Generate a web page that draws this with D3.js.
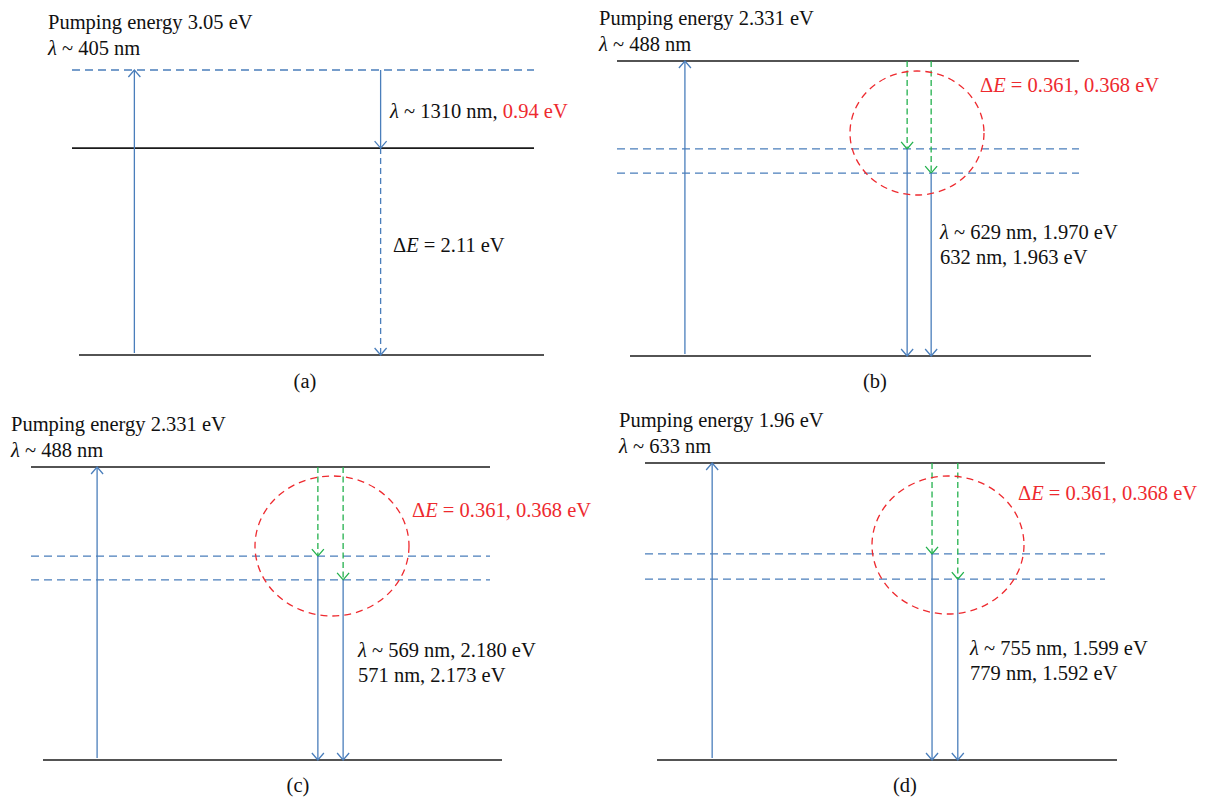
<!DOCTYPE html>
<html>
<head>
<meta charset="utf-8">
<script src="https://cdn.jsdelivr.net/npm/d3@7"></script>
<style>
  body { margin: 0; background: #fff; }
  text { font-family: "Liberation Serif", "DejaVu Serif", serif; font-size: 20.5px; fill: #111; }
</style>
</head>
<body>
<div id="chart"></div>
<script>
// DATA
var panelNames = ["(a)", "(b)", "(c)", "(d)"];
var pumpEnergy = ["3.05", "2.331", "2.331", "1.96"];
var pumpWavelength = ["405", "488", "488", "633"];

// schematic level heights: ground = 0, pumped level = 1
var levelHeights = [
  [0, 0.726, 1],
  [0, 0.620, 0.702, 1],
  [0, 0.615, 0.696, 1],
  [0, 0.609, 0.694, 1]
];
var levelDashed = [
  [false, false, true],
  [false, true, true, false],
  [false, true, true, false],
  [false, true, true, false]
];

// transitions: from level, to level, place along the level (0..1), kind
var transitions = [
  [ {from: 0, to: 1, at: 0.135, kind: "pump"},
    {from: 1, to: 0.726, at: 0.668, kind: "emit"},
    {from: 0.726, to: 0, at: 0.668, kind: "decay"} ],
  [ {from: 0, to: 1, at: 0.147, kind: "pump"},
    {from: 1, to: 0.702, at: 0.628, kind: "relax"},
    {from: 1, to: 0.620, at: 0.680, kind: "relax"},
    {from: 0.702, to: 0, at: 0.628, kind: "emit"},
    {from: 0.620, to: 0, at: 0.680, kind: "emit"} ],
  [ {from: 0, to: 1, at: 0.144, kind: "pump"},
    {from: 1, to: 0.696, at: 0.625, kind: "relax"},
    {from: 1, to: 0.615, at: 0.680, kind: "relax"},
    {from: 0.696, to: 0, at: 0.625, kind: "emit"},
    {from: 0.615, to: 0, at: 0.680, kind: "emit"} ],
  [ {from: 0, to: 1, at: 0.146, kind: "pump"},
    {from: 1, to: 0.694, at: 0.624, kind: "relax"},
    {from: 1, to: 0.609, at: 0.680, kind: "relax"},
    {from: 0.694, to: 0, at: 0.624, kind: "emit"},
    {from: 0.609, to: 0, at: 0.680, kind: "emit"} ]
];

var emitWavelength = [["1310"], ["629", "632"], ["569", "571"], ["755", "779"]];
var emitEnergy = [["0.94"], ["1.970", "1.963"], ["2.180", "2.173"], ["1.599", "1.592"]];
var deltaE = ["2.11", "0.361, 0.368", "0.361, 0.368", "0.361, 0.368"];

// LAYOUT (where each panel sits on the page)
var layout = [
  {l: 72, r: 534, bl: 79, br: 544, yTop: 70, yBot: 355,
   title: [48, 29], name: [305, 388], emit: [390, 118, 24], dE: [393, 252],
   ring: null},
  {l: 617, r: 1079, bl: 630, br: 1091, yTop: 61, yBot: 356,
   title: [599, 25], name: [875, 388], emit: [940, 239, 25], dE: [980, 92],
   ring: [917, 133, 67, 62]},
  {l: 31, r: 490, bl: 43, br: 502, yTop: 467, yBot: 760,
   title: [11, 431], name: [298, 792], emit: [358, 657, 25], dE: [412, 517],
   ring: [332, 546, 77, 70]},
  {l: 645, r: 1105, bl: 657, br: 1117, yTop: 463, yBot: 760,
   title: [619, 427], name: [905, 792], emit: [970, 655, 25], dE: [1018, 500],
   ring: [948, 545, 76, 69]}
];

var blue = "#4a7ebb", green = "#23b14d", red = "#ee2a2f";
var kindStyle = {
  pump:  {color: blue, dash: null},
  emit:  {color: blue, dash: null},
  decay: {color: blue, dash: "6,4"},
  relax: {color: green, dash: "6,3.5"}
};

var svg = d3.select("#chart")
  .append("svg")
  .attr("width", 1210)
  .attr("height", 802);

function addLine(sel, parts) {
  // parts: [text, italic, colour]
  parts.forEach(function(p) {
    var ts = sel.append("tspan").text(p[0]);
    if (p[1]) ts.style("font-style", "italic");
    if (p[2]) ts.style("fill", p[2]);
  });
}

layout.forEach(function(lay, i) {
  var g = svg.append("g").attr("class", "panel");

  var y = d3.scaleLinear().domain([0, 1]).range([lay.yBot, lay.yTop]);
  var x = d3.scaleLinear().domain([0, 1]).range([lay.l, lay.r]);

  // energy levels
  g.selectAll("line.level")
    .data(levelHeights[i])
    .enter()
    .append("line")
    .attr("class", "level")
    .attr("x1", function(d) { return d === 0 ? lay.bl : lay.l; })
    .attr("x2", function(d) { return d === 0 ? lay.br : lay.r; })
    .attr("y1", function(d) { return y(d); })
    .attr("y2", function(d) { return y(d); })
    .attr("stroke", function(d, j) { return levelDashed[i][j] ? blue : "#1a1a1a"; })
    .attr("stroke-width", function(d, j) { return levelDashed[i][j] ? 1.3 : 1.6; })
    .attr("stroke-dasharray", function(d, j) { return levelDashed[i][j] ? "8,5" : null; });

  // transitions with open arrow heads
  var tr = g.selectAll("g.trans")
    .data(transitions[i])
    .enter()
    .append("g")
    .attr("class", "trans");

  tr.append("line")
    .attr("x1", function(d) { return x(d.at); })
    .attr("x2", function(d) { return x(d.at); })
    .attr("y1", function(d) { return y(d.from) + (d.from === 0 ? -2 : 0); })
    .attr("y2", function(d) { return y(d.to); })
    .attr("stroke", function(d) { return kindStyle[d.kind].color; })
    .attr("stroke-width", 1.3)
    .attr("stroke-dasharray", function(d) { return kindStyle[d.kind].dash; });

  tr.append("path")
    .attr("d", function(d) {
      var tx = x(d.at), ty = y(d.to);
      var s = d.to > d.from ? 1 : -1; // up arrows open downward
      var p = d3.path();
      p.moveTo(tx - 6, ty + s * 7);
      p.lineTo(tx, ty);
      p.lineTo(tx + 6, ty + s * 7);
      return p.toString();
    })
    .attr("fill", "none")
    .attr("stroke", function(d) { return kindStyle[d.kind].color; })
    .attr("stroke-width", 1.3);

  // dashed ring around the relaxation
  if (lay.ring) {
    g.append("ellipse")
      .attr("cx", lay.ring[0])
      .attr("cy", lay.ring[1])
      .attr("rx", lay.ring[2])
      .attr("ry", lay.ring[3])
      .attr("fill", "none")
      .attr("stroke", red)
      .attr("stroke-width", 1.3)
      .attr("stroke-dasharray", "7,5");
  }

  // titles
  g.append("text")
    .attr("x", lay.title[0]).attr("y", lay.title[1])
    .text("Pumping energy " + pumpEnergy[i] + " eV");
  addLine(g.append("text").attr("x", lay.title[0]).attr("y", lay.title[1] + 26),
    [["λ", true], [" ~ " + pumpWavelength[i] + " nm"]]);

  // emission labels
  if (i === 0) {
    addLine(g.append("text").attr("x", lay.emit[0]).attr("y", lay.emit[1]),
      [["λ", true], [" ~ " + emitWavelength[i][0] + " nm, "], [emitEnergy[i][0] + " eV", false, red]]);
    addLine(g.append("text").attr("x", lay.dE[0]).attr("y", lay.dE[1]),
      [["Δ"], ["E", true], [" = " + deltaE[i] + " eV"]]);
  } else {
    emitWavelength[i].forEach(function(w, k) {
      var parts = k === 0 ? [["λ", true], [" ~ " + w + " nm, " + emitEnergy[i][k] + " eV"]]
                          : [[w + " nm, " + emitEnergy[i][k] + " eV"]];
      addLine(g.append("text").attr("x", lay.emit[0]).attr("y", lay.emit[1] + k * lay.emit[2]), parts);
    });
    addLine(g.append("text").attr("x", lay.dE[0]).attr("y", lay.dE[1]).style("fill", red),
      [["Δ"], ["E", true], [" = " + deltaE[i] + " eV"]]);
  }

  // panel name
  g.append("text")
    .attr("x", lay.name[0]).attr("y", lay.name[1])
    .attr("text-anchor", "middle")
    .text(panelNames[i]);
});
</script>
</body>
</html>
